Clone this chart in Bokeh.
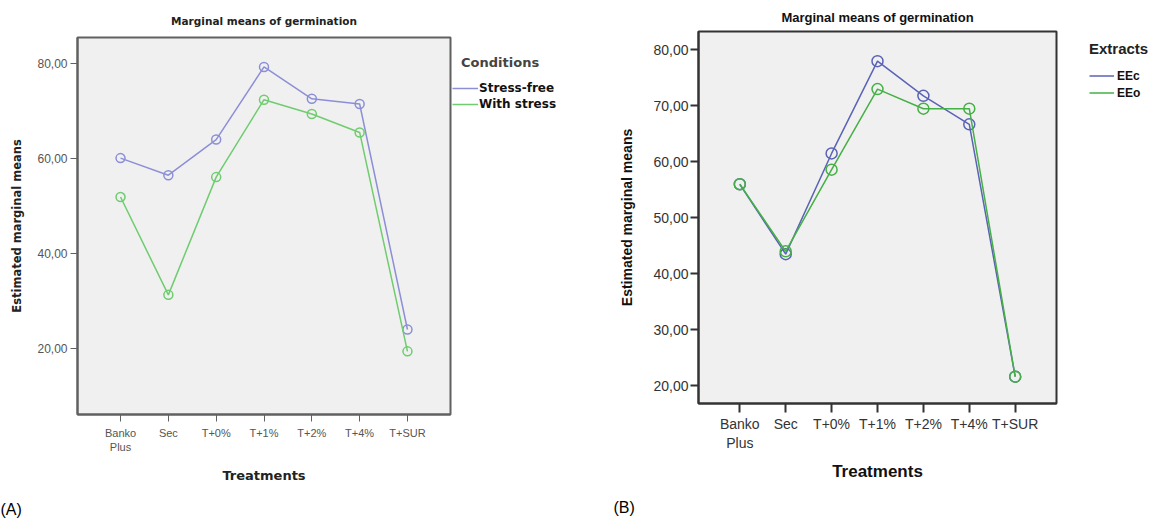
from bokeh.plotting import figure
from bokeh.layouts import row
from bokeh.models import (FactorRange, Range1d, FixedTicker, Legend, LegendItem,
                          ColumnDataSource, Title)
from bokeh.embed import file_html
from bokeh.resources import INLINE

# ---------------- data ----------------
treatments = ["Banko Plus", "Sec", "T+0%", "T+1%", "T+2%", "T+4%", "T+SUR"]
tick_labels = ["Banko\nPlus", "Sec", "T+0%", "T+1%", "T+2%", "T+4%", "T+SUR"]

y_ticks_a = [20, 40, 60, 80]
stress_free = [60.1, 56.5, 64.0, 79.3, 72.6, 71.5, 24.0]
with_stress = [51.9, 31.3, 56.1, 72.4, 69.4, 65.5, 19.4]

y_ticks_b = [20, 30, 40, 50, 60, 70, 80]
eec = [56.0, 43.5, 61.5, 78.0, 71.8, 66.7, 21.6]
eeo = [56.0, 44.0, 58.6, 73.0, 69.5, 69.5, 21.6]

series_a = ["Stress-free", "With stress"]
series_b = ["EEc", "EEo"]
legend_title_a = "Conditions"
legend_title_b = "Extracts"
title_text = "Marginal means of germination"
y_label = "Estimated marginal means"
x_label = "Treatments"

H = 523
NB = "\u00a0"


def legend_fig(width, left, top):
    # a separate, axis-less area holding only the legend (the same series are
    # drawn here against an empty y window, so only their legend swatches show)
    f = figure(width=width, height=H,
               x_range=FactorRange(*tick_labels), y_range=Range1d(1000, 1001),
               x_axis_location=None, y_axis_location=None,
               min_border_left=left, min_border_top=top, min_border_right=0,
               min_border_bottom=0, frame_align=False,
               output_backend="svg", toolbar_location=None,
               background_fill_color="white", border_fill_color="white")
    f.outline_line_color = None
    f.xgrid.visible = False
    f.ygrid.visible = False
    return f


# ---------------- panel A ----------------
src_a = ColumnDataSource(dict(t=tick_labels, sf=stress_free, ws=with_stress))

pa = figure(x_range=FactorRange(*tick_labels, range_padding=0.4, range_padding_units="absolute"),
            y_range=Range1d(6.1, 85.5),
            frame_width=373, frame_height=377, frame_align=False,
            min_border_left=77, min_border_right=2, min_border_top=37, min_border_bottom=109,
            output_backend="svg", toolbar_location=None,
            background_fill_color="#f0f0f0", border_fill_color="white")
pa.xgrid.visible = False
pa.ygrid.visible = False
pa.outline_line_color = "#606060"
pa.outline_line_width = 2

pa.title.text = title_text
pa.title.align = "center"
pa.title.text_font = "DejaVu Sans"
pa.title.text_font_size = "10.5px"
pa.title.text_font_style = "bold"
pa.title.text_color = "#222222"
pa.title.standoff = 21

pa.yaxis.ticker = FixedTicker(ticks=y_ticks_a, minor_ticks=[])
pa.yaxis.major_label_overrides = {t: f"{t},00" for t in y_ticks_a}
for ax in pa.axis:
    ax.axis_line_color = "#606060"
    ax.axis_line_width = 2
    ax.major_tick_line_color = "#606060"
    ax.major_tick_line_width = 1
    ax.major_tick_in = 0
    ax.minor_tick_line_color = None
    ax.major_label_text_font = "Liberation Sans"
    ax.major_label_text_color = "#555555"
    ax.axis_label_text_font = "DejaVu Sans"
    ax.axis_label_text_font_style = "bold"
    ax.axis_label_text_color = "#222222"
pa.yaxis.major_tick_out = 7
pa.yaxis.major_label_standoff = 3
pa.yaxis.major_label_text_font_size = "12px"
pa.yaxis.axis_label = y_label
pa.yaxis.axis_label_text_font_size = "11.5px"
pa.yaxis.axis_label_standoff = 10
pa.xaxis.major_tick_out = 7
pa.xaxis.major_label_standoff = 5
pa.xaxis.major_label_text_font_size = "11px"
pa.xaxis.axis_label = x_label
pa.xaxis.axis_label_text_font_size = "13px"
pa.xaxis.axis_label_standoff = 12

blue_a = "#8c8fd6"
green_a = "#6fcc6f"
pa.line("t", "sf", source=src_a, line_color=blue_a, line_width=1.5)
pa.scatter("t", "sf", source=src_a, marker="circle", size=9, fill_color=None,
           line_color=blue_a, line_width=1.5)
pa.line("t", "ws", source=src_a, line_color=green_a, line_width=1.5)
pa.scatter("t", "ws", source=src_a, marker="circle", size=9, fill_color=None,
           line_color=green_a, line_width=1.5)

pa.add_layout(Title(text="(A)", align="left", offset=-77, standoff=26,
                    text_font="Liberation Sans", text_font_size="16px",
                    text_font_style="normal", text_color="#000000"), "below")

# legend area A (page x 452..588)
la = legend_fig(136, 0, 55)
ra1 = la.line("t", "sf", source=src_a, line_color=blue_a, line_width=1.5)
ra2 = la.line("t", "ws", source=src_a, line_color=green_a, line_width=1.5)
la.add_layout(Legend(items=[LegendItem(label=series_a[0], renderers=[ra1]),
                            LegendItem(label=series_a[1], renderers=[ra2])],
                     title=NB + NB + legend_title_a,
                     title_text_font="DejaVu Sans", title_text_font_size="13px",
                     title_text_font_style="bold", title_text_color="#444444",
                     title_standoff=10,
                     location="top_left", padding=0, margin=0, spacing=0,
                     glyph_width=26, glyph_height=16, label_height=16, label_standoff=1,
                     label_text_font="DejaVu Sans", label_text_font_size="12px",
                     label_text_font_style="bold", label_text_color="#111111",
                     background_fill_alpha=0, border_line_alpha=0))

# ---------------- panel B ----------------
src_b = ColumnDataSource(dict(t=tick_labels, eec=eec, eeo=eeo))

pb = figure(x_range=FactorRange(*tick_labels, range_padding=0.4, range_padding_units="absolute"),
            y_range=Range1d(16.8, 83.3),
            frame_width=358, frame_height=372, frame_align=False,
            min_border_left=110, min_border_right=2, min_border_top=31, min_border_bottom=120,
            output_backend="svg", toolbar_location=None,
            background_fill_color="#f0f0f0", border_fill_color="white")
pb.xgrid.visible = False
pb.ygrid.visible = False
pb.outline_line_color = "#333333"
pb.outline_line_width = 2

pb.title.text = title_text
pb.title.align = "center"
pb.title.text_font = "Liberation Sans"
pb.title.text_font_size = "13px"
pb.title.text_font_style = "bold"
pb.title.text_color = "#111111"
pb.title.text_line_height = 0.85
pb.title.standoff = 14

pb.yaxis.ticker = FixedTicker(ticks=y_ticks_b, minor_ticks=[])
pb.yaxis.major_label_overrides = {t: f"{t},00" for t in y_ticks_b}
for ax in pb.axis:
    ax.axis_line_color = "#333333"
    ax.axis_line_width = 2
    ax.major_tick_line_color = "#333333"
    ax.major_tick_line_width = 2
    ax.major_tick_in = 0
    ax.minor_tick_line_color = None
    ax.major_label_text_font = "Liberation Sans"
    ax.major_label_text_color = "#333333"
    ax.major_label_text_font_size = "14px"
    ax.axis_label_text_font = "Liberation Sans"
    ax.axis_label_text_font_style = "bold"
    ax.axis_label_text_color = "#111111"
pb.yaxis.major_tick_out = 8
pb.yaxis.major_label_standoff = 2
pb.yaxis.axis_label = y_label
pb.yaxis.axis_label_text_font_size = "14px"
pb.yaxis.axis_label_standoff = 15
pb.xaxis.major_tick_out = 9
pb.xaxis.major_label_standoff = 3
pb.xaxis.axis_label = x_label
pb.xaxis.axis_label_text_font_size = "17px"
pb.xaxis.axis_label_standoff = 8

blue_b = "#5a63b5"
green_b = "#45b045"
pb.line("t", "eec", source=src_b, line_color=blue_b, line_width=1.5)
pb.scatter("t", "eec", source=src_b, marker="circle", size=11, fill_color=None,
           line_color=blue_b, line_width=1.5)
pb.line("t", "eeo", source=src_b, line_color=green_b, line_width=1.5)
pb.scatter("t", "eeo", source=src_b, marker="circle", size=11, fill_color=None,
           line_color=green_b, line_width=1.5)

pb.add_layout(Title(text="(B)", align="left", offset=-85, standoff=27,
                    text_font="Liberation Sans", text_font_size="16px",
                    text_font_style="normal", text_color="#000000"), "below")

# legend area B (page x 1058..1156)
lb = legend_fig(98, 31, 40)
rb1 = lb.line("t", "eec", source=src_b, line_color=blue_b, line_width=1.5)
rb2 = lb.line("t", "eeo", source=src_b, line_color=green_b, line_width=1.5)
lb.add_layout(Legend(items=[LegendItem(label=series_b[0], renderers=[rb1]),
                            LegendItem(label=series_b[1], renderers=[rb2])],
                     title=legend_title_b,
                     title_text_font="Liberation Sans", title_text_font_size="15px",
                     title_text_font_style="bold", title_text_color="#222222",
                     title_standoff=10,
                     location="top_left", padding=0, margin=0, spacing=0,
                     glyph_width=25, glyph_height=17, label_height=17, label_standoff=3,
                     label_text_font="Liberation Sans", label_text_font_size="12px",
                     label_text_font_style="bold", label_text_color="#111111",
                     background_fill_alpha=0, border_line_alpha=0))

layout = row(pa, la, pb, lb)
open("out.html", "w").write(file_html(layout, INLINE))
